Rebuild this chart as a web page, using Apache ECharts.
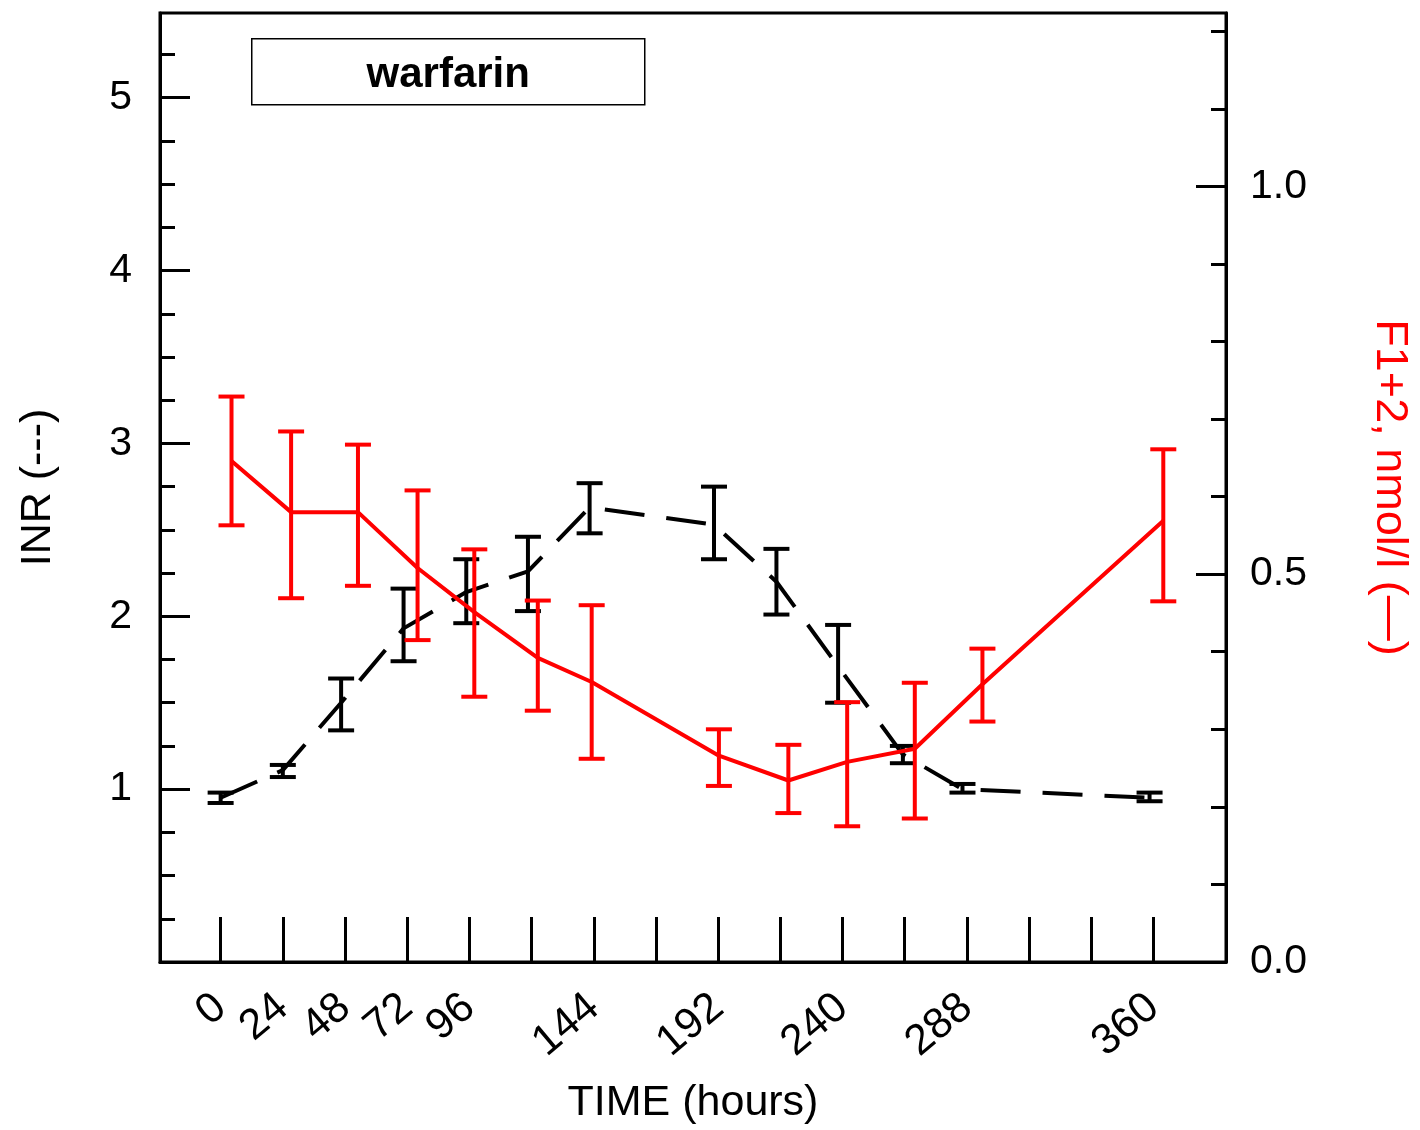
<!DOCTYPE html>
<html>
<head>
<meta charset="utf-8">
<script src="https://cdn.jsdelivr.net/npm/echarts@6/dist/echarts.min.js"></script>
<style>
html,body{margin:0;padding:0;background:#fff;overflow:hidden;}
#chart{width:1420px;height:1130px;}
</style>
</head>
<body>
<div id="chart"></div>
<script>
// ---- data ----
const inrHours = [0, 24, 46.5, 70.6, 94.8, 118.6, 142.4, 190.4, 214.5, 238.3, 263.3, 286.3, 358.5];
const inrMean  = [0.95, 1.11, 1.50, 1.93, 2.14, 2.26, 2.63, 2.53, 2.20, 1.71, 1.20, 1.00, 0.95];
const inrLow   = [0.92, 1.07, 1.34, 1.74, 1.96, 2.03, 2.48, 2.33, 2.01, 1.50, 1.15, 0.98, 0.93];
const inrHigh  = [0.98, 1.14, 1.64, 2.16, 2.33, 2.46, 2.77, 2.75, 2.39, 1.95, 1.25, 1.03, 0.98];

const f12Hours = [4.2, 27.2, 53, 76, 97.9, 122.4, 143.2, 192.3, 219.1, 241.8, 267.9, 294, 363.8];
const f12Mean  = [0.646, 0.580, 0.580, 0.508, 0.451, 0.392, 0.361, 0.266, 0.234, 0.258, 0.275, 0.358, 0.569];
const f12High  = [0.729, 0.684, 0.667, 0.608, 0.532, 0.466, 0.460, 0.300, 0.280, 0.335, 0.360, 0.404, 0.661];
const f12Low   = [0.563, 0.469, 0.485, 0.415, 0.342, 0.324, 0.262, 0.227, 0.192, 0.175, 0.185, 0.310, 0.465];

// tick positions and labels
const xTicks       = [0, 24, 48, 72, 96, 120, 144, 168, 192, 216, 240, 264, 288, 312, 336, 360];
const xTickLabels  = [0, 24, 48, 72, 96, 144, 192, 240, 288, 360];
const inrTicks     = [1, 2, 3, 4, 5];
const inrMinor     = [0.25, 0.5, 0.75, 1.25, 1.5, 1.75, 2.25, 2.5, 2.75, 3.25, 3.5, 3.75, 4.25, 4.5, 4.75, 5.25];
const f12Ticks     = [0, 0.5, 1.0];
const f12Minor     = [0.1, 0.2, 0.3, 0.4, 0.6, 0.7, 0.8, 0.9, 1.1, 1.2];

const legendText = 'warfarin';
const xTitle = 'TIME (hours)';
const yLeftTitle = 'INR (---)';
const yRightTitle = 'F1+2, nmol/l (\u2014)';

// ---- build ----
const FONT = '"Liberation Sans", Arial, sans-serif';
const RED = '#ff0000';
const BLACK = '#000000';

function zip(a, b) { return a.map((v, i) => [v, b[i]]); }
function zip3(a, b, c) { return a.map((v, i) => [v, b[i], c[i]]); }

function errRender(color) {
  return function (params, api) {
    const x = api.value(0), lo = api.value(1), hi = api.value(2);
    const pLo = api.coord([x, lo]);
    const pHi = api.coord([x, hi]);
    const hw = 13;
    const style = { stroke: color, lineWidth: 4, fill: null };
    return {
      type: 'group',
      children: [
        { type: 'line', shape: { x1: pLo[0], y1: pLo[1], x2: pHi[0], y2: pHi[1] }, style: style },
        { type: 'line', shape: { x1: pLo[0] - hw, y1: pLo[1], x2: pLo[0] + hw, y2: pLo[1] }, style: style },
        { type: 'line', shape: { x1: pHi[0] - hw, y1: pHi[1], x2: pHi[0] + hw, y2: pHi[1] }, style: style }
      ]
    };
  };
}

const chart = echarts.init(document.getElementById('chart'), null, { renderer: 'canvas', width: 1420, height: 1130 });

const X_MIN = -23.4, X_MAX = 388;
const INR_MAX = 5.49, F12_MAX = 1.2235;

function minorAxis(pos, max, ticks) {
  return {
    type: 'value', position: pos, min: 0, max: max,
    axisLine: { show: false, onZero: false }, axisLabel: { show: false }, splitLine: { show: false },
    axisTick: { show: true, inside: true, length: 15, customValues: ticks, lineStyle: { color: BLACK, width: 3 } }
  };
}

const option = {
  animation: false,
  backgroundColor: '#fff',
  textStyle: { fontFamily: FONT },
  grid: {
    left: 160, right: 188, top: 13, bottom: 159,
    show: true, borderColor: BLACK, borderWidth: 3, backgroundColor: 'transparent'
  },
  xAxis: [{
    type: 'value', min: X_MIN, max: X_MAX,
    name: xTitle, nameLocation: 'middle', nameGap: 120,
    nameTextStyle: { color: BLACK, fontSize: 43, fontFamily: FONT },
    axisLine: { show: true, onZero: false, lineStyle: { color: BLACK, width: 3 } },
    axisTick: { show: true, inside: true, length: 45, customValues: xTicks, lineStyle: { color: BLACK, width: 3 } },
    splitLine: { show: false },
    axisLabel: {
      show: true, rotate: 40, margin: 40, color: BLACK, fontSize: 43, fontFamily: FONT,
      customValues: xTickLabels, formatter: v => String(v)
    }
  }],
  yAxis: [
    { // INR major
      type: 'value', position: 'left', min: 0, max: INR_MAX,
      name: yLeftTitle, nameLocation: 'middle', nameGap: 100, nameRotate: 90,
      nameTextStyle: { color: BLACK, fontSize: 43, fontFamily: FONT },
      axisLine: { show: true, onZero: false, lineStyle: { color: BLACK, width: 3 } },
      axisTick: { show: true, inside: true, length: 30, customValues: inrTicks, lineStyle: { color: BLACK, width: 3 } },
      splitLine: { show: false },
      axisLabel: { show: true, margin: 28, color: BLACK, fontSize: 41, fontFamily: FONT,
        customValues: inrTicks, formatter: v => String(v) }
    },
    { // F1+2 major
      type: 'value', position: 'right', min: 0, max: F12_MAX,
      name: yRightTitle, nameLocation: 'middle', nameGap: 141, nameRotate: -90,
      nameTextStyle: { color: RED, fontSize: 45, fontFamily: FONT },
      axisLine: { show: true, onZero: false, lineStyle: { color: BLACK, width: 3 } },
      axisTick: { show: true, inside: true, length: 30, customValues: f12Ticks, lineStyle: { color: BLACK, width: 3 } },
      splitLine: { show: false },
      axisLabel: { show: true, margin: 24, color: BLACK, fontSize: 41, fontFamily: FONT,
        customValues: f12Ticks, formatter: v => v.toFixed(1) }
    },
    minorAxis('left', INR_MAX, inrMinor),
    minorAxis('right', F12_MAX, f12Minor)
  ],
  graphic: [{
    type: 'group', left: 251, top: 38,
    children: [
      { type: 'rect', shape: { x: 0, y: 0, width: 393, height: 66 },
        style: { fill: '#fff', stroke: BLACK, lineWidth: 1.5 } },
      { type: 'text', x: 196.5, y: 37,
        style: { text: legendText, fill: BLACK, font: 'bold 42px ' + FONT,
          textAlign: 'center', textVerticalAlign: 'middle' } }
    ]
  }],
  series: [
    {
      name: 'INR', type: 'line', xAxisIndex: 0, yAxisIndex: 0,
      data: zip(inrHours, inrMean), symbol: 'none', z: 2,
      lineStyle: { color: BLACK, width: 4, type: [40, 22] }
    },
    {
      name: 'INR err', type: 'custom', xAxisIndex: 0, yAxisIndex: 0,
      data: zip3(inrHours, inrLow, inrHigh), encode: { x: 0, y: [1, 2] },
      renderItem: errRender(BLACK), z: 3
    },
    {
      name: 'F1+2', type: 'line', xAxisIndex: 0, yAxisIndex: 1,
      data: zip(f12Hours, f12Mean), symbol: 'none', z: 4,
      lineStyle: { color: RED, width: 4 }
    },
    {
      name: 'F1+2 err', type: 'custom', xAxisIndex: 0, yAxisIndex: 1,
      data: zip3(f12Hours, f12Low, f12High), encode: { x: 0, y: [1, 2] },
      renderItem: errRender(RED), z: 5
    }
  ]
};
chart.setOption(option);
</script>
</body>
</html>
